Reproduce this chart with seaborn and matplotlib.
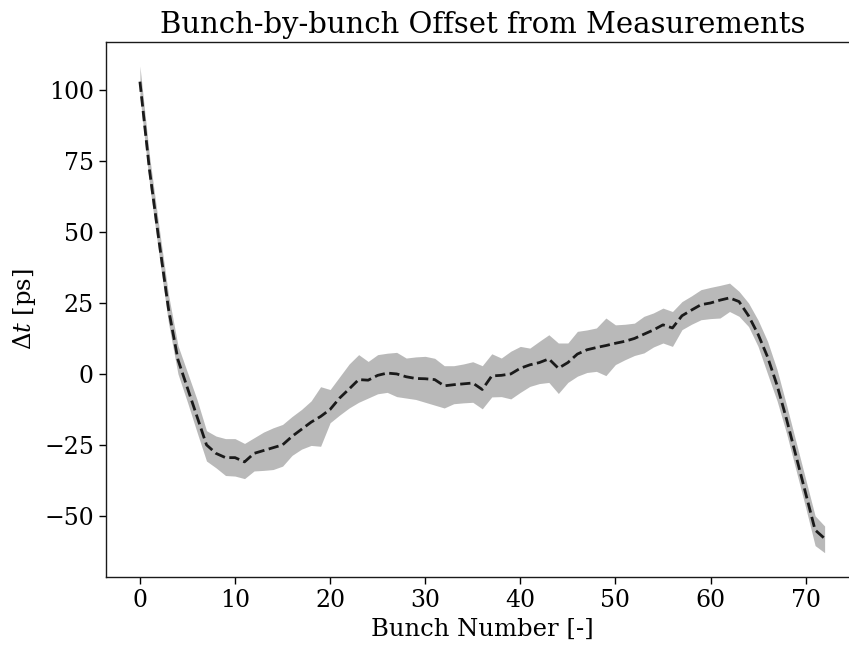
import numpy as np
import pandas as pd
import matplotlib
matplotlib.use("Agg")
import matplotlib.pyplot as plt
import seaborn as sns

bunch = list(range(73))
mean_offset = [103, 72, 47, 23, 5, -5, -15, -25, -28, -29.5,
               -29.5, -31, -28, -27, -26, -25, -22, -19.5, -17, -15,
               -12.5, -8.5, -5.3, -2.0, -2.2, -0.5, 0.3, 0.0, -1.0, -1.6,
               -1.7, -2.0, -4.2, -3.8, -3.5, -3.2, -5.5, -0.7, -0.5, 0.0,
               2.0, 3.2, 4.0, 5.3, 2.0, 4.0, 7.0, 8.5, 9.3, 10.0,
               10.8, 11.5, 12.5, 14.0, 15.5, 17.3, 16.2, 20.5, 22.5, 24.4,
               25.0, 26.0, 26.8, 25.5, 20.5, 14, 6, -4, -16, -29,
               -42, -55, -58]
upper_offset = [108.5, 77, 52, 28, 10, 0.5, -9, -20, -21.9, -22.8,
                -22.8, -24.5, -22.5, -20.5, -19, -17.8, -15, -12.5, -9.5, -4.5,
                -5.5, -1, 3.5, 6.8, 4.4, 6.8, 7.3, 7.6, 5.6, 6.0,
                6.2, 5.5, 2.9, 2.9, 3.5, 4.3, 2.9, 7.1, 5.6, 8.0,
                9.7, 9.1, 11.5, 13.8, 10.9, 10.9, 15.0, 15.5, 16.2, 19.7,
                17.3, 17.5, 17.9, 20.3, 21.5, 23.2, 22.0, 25.5, 27.5, 29.7,
                30.5, 31.2, 32.0, 29.1, 25, 19, 11.5, 1.5, -11, -24,
                -37, -50, -53.6]
lower_offset = [98, 67, 42, 18, 0, -10, -20.5, -30.7, -33.1, -35.8,
                -36.0, -36.9, -34.2, -34.0, -33.7, -32.5, -28.7, -26.5, -25.2, -25.5,
                -17.2, -14.5, -12, -10, -8.5, -7, -6.5, -8, -8.5, -9,
                -10, -11, -12, -10.5, -10.2, -10, -12.3, -8.1, -8.0, -8.8,
                -6.5, -4.4, -3.4, -3.0, -6.9, -3, -0.8, 0.5, 0.9, -0.6,
                3.3, 5, 6.5, 7.4, 9.5, 10.9, 9.7, 15.6, 17.5, 19.1,
                19.5, 19.7, 22.0, 20.3, 16.7, 9.7, 0, -9.5, -21, -34,
                -47, -60.5, -63]

df = pd.DataFrame({"bunch": bunch, "mean": mean_offset,
                   "upper": upper_offset, "lower": lower_offset})

sns.set_theme(style="ticks")
plt.rcParams["font.family"] = ["DejaVu Serif"]
plt.rcParams["mathtext.fontset"] = "dejavuserif"
for key in ["text.color", "axes.labelcolor", "xtick.color", "ytick.color",
            "axes.edgecolor"]:
    plt.rcParams[key] = "black"

fig = plt.figure(figsize=(8.49, 6.52), dpi=100)
ax = fig.add_axes([0.1245, 0.115, 0.8871, 0.8210])

ax.fill_between(df["bunch"], df["lower"], df["upper"], color="k", alpha=0.3,
                linewidth=0)
sns.lineplot(data=df, x="bunch", y="mean", ax=ax, color="k", linestyle="--",
             linewidth=2)

ax.set_title("Bunch-by-bunch Offset from Measurements", fontsize=21, color="black")
ax.set_xlabel("Bunch Number [-]", fontsize=17.5, color="black")
ax.set_ylabel(r"$\Delta t$ [ps]", fontsize=17.5, color="black")
ax.tick_params(labelsize=17, length=5, width=1, direction="out", colors="black")
ax.set_yticks([-50, -25, 0, 25, 50, 75, 100])
ax.set_xticks([0, 10, 20, 30, 40, 50, 60, 70])
for s in ax.spines.values():
    s.set_color("k")
    s.set_linewidth(1)
    s.set_visible(True)
ax.margins(x=0.05, y=0.05)

fig.savefig("out.png", dpi=100)
